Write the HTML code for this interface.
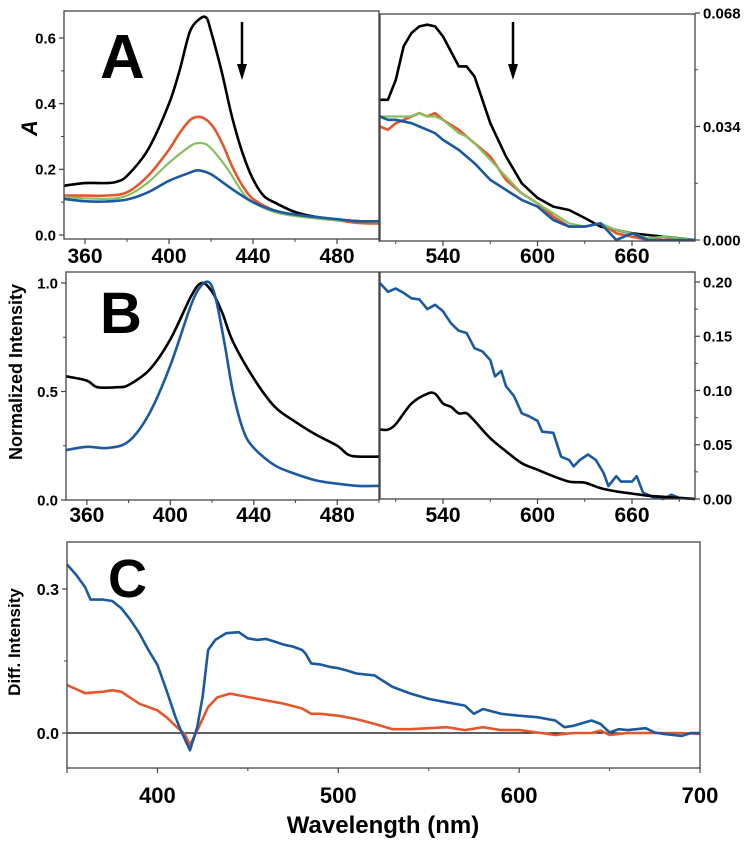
<!DOCTYPE html>
<html><head><meta charset="utf-8"><style>
html,body{margin:0;padding:0;background:#fff;}
svg{display:block;font-family:"Liberation Sans",sans-serif;font-weight:bold;}
</style></head><body>
<svg id="fig" width="748" height="842" viewBox="0 0 748 842"></svg>
<script>
// ---- Data (wavelength arrays + values) ----
const aLeftX = [350,360,370,375,380,390,400,405,410,415,418,420,425,430,435,440,445,450,460,470,480,490,500];
const aLeftBlack = [0.15,0.158,0.158,0.162,0.18,0.26,0.40,0.50,0.62,0.66,0.66,0.62,0.50,0.36,0.25,0.17,0.12,0.10,0.07,0.055,0.047,0.042,0.04];
const aLeftX2 = [350,360,370,380,390,400,405,410,414,418,422,426,430,435,440,450,460,470,480,490,500];
const aLeftRed = [0.12,0.12,0.12,0.13,0.18,0.26,0.31,0.35,0.36,0.35,0.32,0.27,0.21,0.15,0.11,0.075,0.06,0.052,0.045,0.037,0.035];
const aLeftX3 = [350,370,380,390,400,410,414,418,422,428,435,440,450,460,480,500];
const aLeftGreen = [0.115,0.11,0.12,0.16,0.22,0.27,0.28,0.275,0.25,0.2,0.13,0.1,0.07,0.058,0.045,0.04];
const aLeftX4 = [350,360,370,380,390,400,410,414,420,430,440,450,460,480,490,500];
const aLeftBlue = [0.11,0.103,0.102,0.108,0.13,0.165,0.19,0.197,0.185,0.14,0.1,0.075,0.062,0.048,0.042,0.042];

const aRightXB = [500,505,510,515,520,525,530,535,540,550,555,560,570,580,590,600,610,620,630,640,650,660,670,680,690,700];
const aRightBlack = [0.042,0.042,0.048,0.058,0.062,0.064,0.0645,0.064,0.061,0.052,0.052,0.049,0.035,0.025,0.017,0.0126,0.01,0.009,0.0066,0.004,0.003,0.002,0.0015,0.001,0.0005,0];
const aRightX = [500,505,510,520,525,530,535,540,550,555,560,570,580,590,600,610,620,630,640,650,660,670,680,690,700];
const aRightRed = [0.034,0.033,0.035,0.037,0.038,0.037,0.038,0.036,0.033,0.031,0.029,0.025,0.018,0.014,0.011,0.007,0.004,0.004,0.005,0.002,0.001,0,0.001,0,0];
const aRightGreen = [0.037,0.037,0.037,0.037,0.038,0.037,0.037,0.036,0.032,0.031,0.029,0.024,0.019,0.014,0.011,0.008,0.005,0.004,0.005,0.003,0.002,0.0005,0.001,0.0005,0];
const aRightBlue = [0.037,0.036,0.036,0.035,0.034,0.033,0.032,0.030,0.027,0.025,0.023,0.018,0.015,0.012,0.01,0.006,0.004,0.004,0.005,0.0,0.002,0.0,0.0,0.0,0];

const bLeftXK = [350,360,365,375,380,390,400,410,415,420,425,430,440,450,460,470,480,485,490,500];
const bLeftBlack = [0.57,0.55,0.52,0.52,0.53,0.60,0.74,0.94,1.0,0.96,0.86,0.73,0.56,0.43,0.36,0.30,0.25,0.21,0.20,0.20];
const bLeftXB = [350,360,370,380,390,400,410,415,419,422,426,430,435,440,450,460,470,480,490,500];
const bLeftBlue = [0.23,0.245,0.24,0.27,0.40,0.62,0.90,0.99,1.0,0.92,0.72,0.50,0.32,0.24,0.16,0.12,0.09,0.075,0.065,0.065];

const bRightXB = [500,505,510,515,520,525,530,535,540,545,550,555,560,565,570,573,577,580,585,590,595,600,603,610,615,620,623,627,632,637,642,645,650,653,660,663,667,673,680,685,690,700];
const bRightBlue = [0.199,0.191,0.194,0.19,0.185,0.184,0.175,0.179,0.173,0.162,0.155,0.153,0.139,0.136,0.128,0.113,0.118,0.104,0.095,0.079,0.076,0.072,0.062,0.061,0.039,0.036,0.03,0.036,0.041,0.036,0.024,0.012,0.021,0.016,0.016,0.021,0.006,0.002,0.0,0.004,0.001,0];
const bRightXK = [500,505,510,520,530,535,540,545,550,555,560,570,580,590,600,610,620,630,640,650,660,670,680,690,700];
const bRightBlack = [0.064,0.064,0.069,0.088,0.097,0.097,0.088,0.085,0.079,0.079,0.072,0.056,0.044,0.033,0.027,0.021,0.016,0.015,0.01,0.007,0.005,0.003,0.002,0.001,0];

const cXB = [350,355,360,363,370,375,380,385,390,395,400,405,410,413,418,422,425,428,432,438,445,450,455,460,465,470,475,480,482,485,490,495,500,505,510,520,530,540,550,560,570,575,580,590,600,610,620,625,630,640,645,650,655,660,670,675,680,690,695,700];
const cBlue = [0.351,0.33,0.304,0.278,0.278,0.275,0.26,0.236,0.208,0.173,0.142,0.089,0.033,0.005,-0.036,0.012,0.075,0.173,0.194,0.208,0.21,0.197,0.194,0.196,0.19,0.184,0.18,0.173,0.165,0.145,0.143,0.138,0.135,0.13,0.124,0.12,0.096,0.082,0.071,0.064,0.057,0.04,0.05,0.04,0.036,0.033,0.026,0.012,0.015,0.026,0.019,0.001,0.008,0.006,0.01,0.001,-0.002,-0.006,0,0];
const cXR = [350,360,370,375,380,390,400,405,410,415,418,422,428,433,440,450,460,470,480,485,490,500,510,520,530,540,550,560,570,580,590,600,610,620,630,640,645,650,660,670,680,690,700];
const cRed = [0.1,0.083,0.086,0.089,0.086,0.061,0.047,0.033,0.015,-0.002,-0.025,0.005,0.054,0.074,0.082,0.075,0.068,0.061,0.051,0.04,0.04,0.036,0.029,0.019,0.008,0.008,0.01,0.012,0.006,0.012,0.006,0.006,0.001,-0.004,0,0,0.005,-0.004,0,0,0,0,-0.002];

// tick labels
const aLeftYTicks = ["0.0","0.2","0.4","0.6"];
const aRightYTicks = ["0.000","0.034","0.068"];
const bLeftYTicks = ["0.0","0.5","1.0"];
const bRightYTicks = ["0.00","0.05","0.10","0.15","0.20"];
const leftXTicks = ["360","400","440","480"];
const rightXTicks = ["540","600","660"];
const cXTicks = ["400","500","600","700"];
const cYTicks = ["0.0","0.3"];

const NS="http://www.w3.org/2000/svg";
const svg=document.getElementById('fig');
function el(tag,attrs,parent){const e=document.createElementNS(NS,tag);for(const k in attrs)e.setAttribute(k,attrs[k]);(parent||svg).appendChild(e);return e;}
function scale(d0,d1,r0,r1){return v=>r0+(v-d0)/(d1-d0)*(r1-r0);}

const COL={k:"#000",r:"#e3572b",g:"#86c061",b:"#1b5aa0"};

function panel(name,box,xd,yd){
  const p={x:scale(xd[0],xd[1],box[0],box[2]),y:scale(yd[0],yd[1],box[3],box[1]),box};
  const g=el('g',{});
  
  
  p.g=g;
  return p;
}
function frame(p){
  const b=p.box;
  const r=el('rect',{x:b[0],y:b[1],width:b[2]-b[0],height:b[3]-b[1],fill:"none",stroke:"#444","stroke-width":1.3},p.g);
  
  
}
function line(p,xs,ys,color,name,w,smooth){
  const pts=xs.map((xv,i)=>[p.x(xv),p.y(ys[i])]);
  let d="M"+pts[0][0].toFixed(1)+","+pts[0][1].toFixed(1);
  for(let i=1;i<pts.length;i++){
    if(smooth){
      const p0=pts[i-2]||pts[i-1],p1=pts[i-1],p2=pts[i],p3=pts[i+1]||pts[i];
      const t=0.16;
      const c1=[p1[0]+(p2[0]-p0[0])*t,p1[1]+(p2[1]-p0[1])*t];
      const c2=[p2[0]-(p3[0]-p1[0])*t,p2[1]-(p3[1]-p1[1])*t];
      d+="C"+c1[0].toFixed(1)+","+c1[1].toFixed(1)+" "+c2[0].toFixed(1)+","+c2[1].toFixed(1)+" "+p2[0].toFixed(1)+","+p2[1].toFixed(1);
    } else d+="L"+pts[i][0].toFixed(1)+","+pts[i][1].toFixed(1);
  }
  const e=el('path',{d,fill:"none",stroke:color,"stroke-width":w||2.6,"stroke-linejoin":"round"},p.g);
  
  
}
function xTicks(p,major,minor,labels,ly,fs){
  const b=p.box;
  major.forEach((v,i)=>{
    el('line',{x1:p.x(v),x2:p.x(v),y1:b[3],y2:b[3]+5,stroke:"#444","stroke-width":1.2},p.g);
    if(labels&&labels[i]!==undefined&&labels[i]!==""){
      const t=el('text',{x:p.x(v),y:ly,"text-anchor":"middle","font-size":fs},p.g);
      t.textContent=labels[i];
      
      
    }
  });
  minor.forEach(v=>el('line',{x1:p.x(v),x2:p.x(v),y1:b[3],y2:b[3]+3,stroke:"#444","stroke-width":1},p.g));
}
function yTicks(p,major,minor,labels,side,fs){
  const b=p.box;const xb=side==="left"?b[0]:b[2];const dir=side==="left"?-1:1;
  major.forEach((v,i)=>{
    el('line',{x1:xb,x2:xb+dir*5,y1:p.y(v),y2:p.y(v),stroke:"#444","stroke-width":1.2},p.g);
    const t=el('text',{x:xb+dir*8,y:p.y(v)+fs*0.36,"text-anchor":side==="left"?"end":"start","font-size":fs},p.g);
    t.textContent=labels[i];
    
    
  });
  minor.forEach(v=>el('line',{x1:xb,x2:xb+dir*3,y1:p.y(v),y2:p.y(v),stroke:"#444","stroke-width":1},p.g));
}
function text(str,x,y,fs,name,extra){
  const t=el('text',Object.assign({x,y,"font-size":fs},extra||{}));
  t.textContent=str;
  
  
  return t;
}
function arrow(x,y1,y2,name){
  const g=el('g',{});
  
  
  el('line',{x1:x,x2:x,y1:y1,y2:y2-12,stroke:"#000","stroke-width":2.5},g);
  el('path',{d:`M${x-5},${y2-16}L${x+5},${y2-16}L${x},${y2}Z`,fill:"#000"},g);
}

// Panel A left
const AL=panel('panel-a-absorbance-soret',[64,11,379,239],[350,500],[-0.012,0.682]);
AL.y=scale(0,0.6,235,38);
line(AL,aLeftX,aLeftBlack,COL.k,'series-a-black',2.6,true);
line(AL,aLeftX2,aLeftRed,COL.r,'series-a-red',2.6,true);
line(AL,aLeftX3,aLeftGreen,COL.g,'series-a-green',2.2,true);
line(AL,aLeftX4,aLeftBlue,COL.b,'series-a-blue',2.6,true);
frame(AL);
yTicks(AL,[0,0.2,0.4,0.6],[0.1,0.3,0.5],aLeftYTicks,"left",15);
xTicks(AL,[360,400,440,480],[380,420,460,500],leftXTicks,263,21);

// Panel A right
const AR=panel('panel-a-absorbance-q',[380,14,695,241],[500,700],[0,0.068]);
AR.y=scale(0,0.068,240,13);
line(AR,aRightXB,aRightBlack,COL.k,'series-a-right-black');
line(AR,aRightX,aRightRed,COL.r,'series-a-right-red');
line(AR,aRightX,aRightGreen,COL.g,'series-a-right-green',2.2);
line(AR,aRightX,aRightBlue,COL.b,'series-a-right-blue');
frame(AR);
yTicks(AR,[0,0.034,0.068],[0.017,0.051],aRightYTicks,"right",15);
xTicks(AR,[540,600,660],[510,570,630,690],rightXTicks,263,21);

// Panel B left
const BL=panel('panel-b-normalized-soret',[66,272,379,500],[350,500],[0,1.05]);
BL.y=scale(0,1,500,283);
line(BL,bLeftXK,bLeftBlack,COL.k,'series-b-black',2.6,true);
line(BL,bLeftXB,bLeftBlue,COL.b,'series-b-blue',2.6,true);
frame(BL);
yTicks(BL,[0,0.5,1.0],[0.25,0.75],bLeftYTicks,"left",15);
xTicks(BL,[360,400,440,480],[380,420,460,500],leftXTicks,522,21);

// Panel B right
const BR=panel('panel-b-normalized-q',[380,272,695,499],[500,700],[0,0.21]);
BR.y=scale(0,0.2,499,282);
line(BR,bRightXB,bRightBlue,COL.b,'series-b-right-blue');
line(BR,bRightXK,bRightBlack,COL.k,'series-b-right-black',2.6,true);
frame(BR);
yTicks(BR,[0,0.05,0.1,0.15,0.2],[0.025,0.075,0.125,0.175],bRightYTicks,"right",15);
xTicks(BR,[540,600,660],[510,570,630,690],rightXTicks,522,21);

// Panel C
const C=panel('panel-c-difference',[67,542,700,768],[350,700],[-0.073,0.398]);
C.y=scale(0,0.3,733,589);
el('line',{x1:67,x2:700,y1:C.y(0),y2:C.y(0),stroke:"#000","stroke-width":1.2},C.g);
line(C,cXR,cRed,COL.r,'series-c-red');
line(C,cXB,cBlue,COL.b,'series-c-blue');
frame(C);
yTicks(C,[0,0.3],[0.15],cYTicks,"left",16);
xTicks(C,[350,400,500,600,700],[450,550,650],["",...cXTicks],803,22);

// Labels
text("A",100,78,62,'panel-label-a');
text("B",100,333,58,'panel-label-b');
text("C",108,597,54,'panel-label-c');
text("A",0,0,22,'y-axis-title-a',{transform:"translate(37,128) rotate(-90)","text-anchor":"middle","font-style":"italic"});
text("Normalized Intensity",0,0,18,'y-axis-title-b',{transform:"translate(22,372) rotate(-90)","text-anchor":"middle"});
text("Diff. Intensity",0,0,17,'y-axis-title-c',{transform:"translate(20,642) rotate(-90)","text-anchor":"middle"});
text("Wavelength (nm)",383,833,24,'x-axis-title',{"text-anchor":"middle"});
arrow(242,22,80,'arrow-decrease-a');
arrow(513,22,80,'arrow-decrease-a-right');
</script>
</body></html>
